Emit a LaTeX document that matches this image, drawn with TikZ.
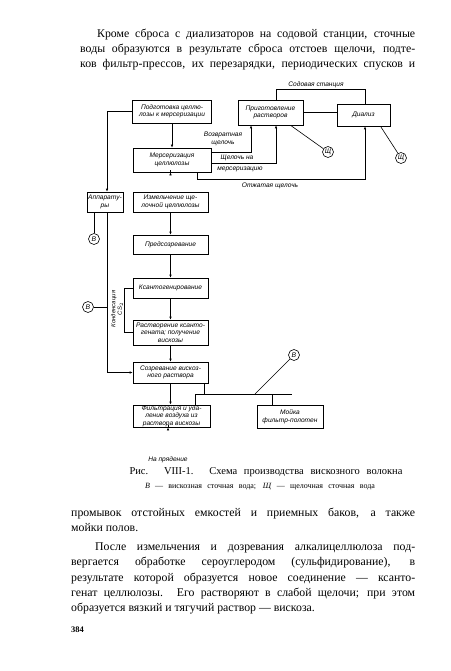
\documentclass[tikz,border=0pt]{standalone}
\usepackage{fontspec}
\setmainfont{Liberation Serif}
\newfontfamily\lab{Liberation Sans}
\usetikzlibrary{calc,arrows.meta}
\begin{document}
\begin{tikzpicture}[x=1pt,y=-1pt,
 box/.style={draw, line width=0.6pt, inner sep=0.5pt, align=center, font=\lab\itshape\fontsize{6.6}{7.5}\selectfont},
 lbl/.style={font=\lab\itshape\fontsize{6.6}{7.5}\selectfont, inner sep=0.5pt, align=center},
 circ/.style={draw, circle, line width=0.6pt, minimum size=11pt, inner sep=0pt, font=\lab\itshape\fontsize{6.8}{7}\selectfont},
 ln/.style={line width=0.6pt},
 arr/.style={line width=0.6pt, -{Latex[length=3pt,width=2.5pt]}},
 body/.style={anchor=base west, inner sep=0pt, font=\fontsize{11.8}{14}\selectfont}
]
\useasboundingbox (0,0) rectangle (450,671);

% top paragraph
\node[body] (t1) at (97,38) {\makebox[318pt][s]{Кроме сброса с диализаторов на содовой станции, сточные}};
\node[body] (t2) at (80,53) {\makebox[335pt][s]{воды образуются в результате сброса отстоев щелочи, подте-}};
\node[body] (t3) at (80,68) {\makebox[335pt][s]{ков фильтр-прессов, их перезарядки, периодических спусков и}};

% boxes
\node[box, minimum width=79pt, minimum height=23pt] (podg) at (172,111.5) {Подготовка целлю-\\лозы к мерсеризации};
\node[box, minimum width=65pt, minimum height=25pt] (prig) at (270.5,112.5) {Приготовление\\растворов};
\node[box, minimum width=53pt, minimum height=22pt] (dial) at (363.5,115) {Диализ};
\node[box, minimum width=78pt, minimum height=24pt] (merc) at (172,160) {Мерсеризация\\целлюлозы};
\node[box, minimum width=36pt, minimum height=20pt] (appa) at (105,202) {Аппарату-\\ры};
\node[box, minimum width=75pt, minimum height=20pt] (izm) at (170.5,202) {Измельчение ще-\\лочной целлюлозы};
\node[box, minimum width=75pt, minimum height=19pt] (preds) at (170.5,244.5) {Предсозревание};
\node[box, minimum width=75pt, minimum height=20pt] (ksant) at (170.5,288) {Ксантогенирование};
\node[box, minimum width=75pt, minimum height=25pt] (rastv) at (170.5,332.5) {Растворение ксанто-\\гената; получение\\вискозы};
\node[box, minimum width=75pt, minimum height=21pt] (sozr) at (170.5,372.5) {Созревание вискоз-\\ного раствора};
\node[box, minimum width=77pt, minimum height=22pt] (filtr) at (171.5,416) {Фильтрация и уда-\\ление воздуха из\\раствора вискозы};
\node[box, minimum width=66pt, minimum height=23pt] (moika) at (290,416.5) {Мойка\\фильтр-полотен};

% circles
\node[circ] (sh1) at (328,152) {Щ};
\node[circ] (sh2) at (401,158) {Щ};
\node[circ] (v1) at (94,239) {В};
\node[circ] (v2) at (88,307) {В};
\node[circ] (v3) at (294,355) {В};

% labels
\node[lbl] (lsod) at (316,85) {Содовая станция};
\node[lbl] (lvoz) at (223,139) {Возвратная\\щелочь};
\node[lbl] (lsh1) at (237,157.5) {Щелочь на};
\node[lbl] (lsh2) at (240,169.5) {мерсеризацию};
\node[lbl] (lotj) at (270,186) {Отжатая щелочь};
\node[lbl, rotate=90, font=\lab\itshape\fontsize{6}{6.5}\selectfont] (lkond) at (117,309) {Конденсация\\CS$_2$};
\node[lbl] (spin) at (168,460) {На прядение};

% main chain
\draw[arr] (podg.south) -- (podg.south |- merc.north);
\draw[arr] ($(merc.south)+(-1.5,0)$) -- ($(merc.south)+(-1.5,0)$ |- izm.north);
\draw[arr] (izm.south) -- (preds.north);
\draw[arr] (preds.south) -- (ksant.north);
\draw[arr] (ksant.south) -- (rastv.north);
\draw[arr] (rastv.south) -- (sozr.north);
\draw[arr] (sozr.south) -- (sozr.south |- filtr.north);
\draw[arr] ($(filtr.south)+(-3.5,0)$) -- ($(filtr.south)+(-3.5,0)$ |- spin.north);

% soda station loop
\draw[ln] ($(prig.north)+(5.5,0)$) |- ($(dial.north)+(1.5,-14)$) -- ($(dial.north)+(1.5,0)$);
\draw[ln] (prig.east) -- (prig.east -| dial.west);
\draw[arr] ($(merc.south)+(25,0)$) -- ++(0,7) -| ($(dial.south)+(1.5,0)$);
\draw[arr] ($(merc.east)+(0,3)$) -| ($(prig.south)+(5.5,0)$);
\draw[arr] ($(merc.east)+(0,-8)$) -| ($(prig.south)+(-19.5,0)$);

% alkaline waste
\draw[ln] ($(prig.south)+(20,0)$) -- (sh1);
\draw[ln] ($(dial.south)+(17,0)$) -- (sh2);

% left side
\draw[arr] (podg.west) -| ($(appa.north)+(2,0)$);
\draw[ln] ($(appa.south)+(-11,0)$) -- (v1);
\draw[arr] ($(appa.south)+(2,0)$) |- (sozr.west);
\coordinate (lj) at (107,307);
\draw[ln] (v2) -- (lj);
\draw[ln] (ksant.west) -- ++(-8,0) |- (rastv.west);

% viscose waste collector
\coordinate (jl) at (195,394);
\coordinate (jr) at (292,394);
\coordinate (jd) at (255,394);
\coordinate (jm) at (272,394);
\draw[ln] (jl) -- (jr);
\draw[ln] ($(sozr.south east)+(-4,0)$) -- ++(0,11);
\draw[ln] (jl) -- (jl |- filtr.north);
\draw[ln] (jm) -- (jm |- moika.north);
\draw[ln] (jd) -- (v3);

% caption
\node[anchor=base, inner sep=0pt, font=\fontsize{10.5}{12}\selectfont] (cap1) at (266,474) {\makebox[273pt][s]{Рис. VIII-1. Схема производства вискозного волокна}};
\node[anchor=base, inner sep=0pt, font=\fontsize{8}{9}\selectfont] (cap2) at (260,488) {\makebox[230pt][s]{\textit{В} — вискозная сточная вода; \textit{Щ} — щелочная сточная вода}};

% bottom paragraph
\node[body] (b1) at (71,516) {\makebox[344pt][s]{промывок отстойных емкостей и приемных баков, а также}};
\node[body] (b2) at (71,531) {мойки полов.};
\node[body] (b3) at (95,550) {\makebox[320pt][s]{После измельчения и дозревания алкалицеллюлоза под-}};
\node[body] (b4) at (71,565) {\makebox[344pt][s]{вергается обработке сероуглеродом (сульфидирование), в}};
\node[body] (b5) at (71,581) {\makebox[344pt][s]{результате которой образуется новое соединение — ксанто-}};
\node[body] (b6) at (71,596) {\makebox[344pt][s]{генат целлюлозы. Его растворяют в слабой щелочи; при этом}};
\node[body] (b7) at (71,611) {образуется вязкий и тягучий раствор — вискоза.};
\node[body, font=\bfseries\fontsize{8.5}{10}\selectfont] (pg) at (71,632) {384};
\end{tikzpicture}
\end{document}
